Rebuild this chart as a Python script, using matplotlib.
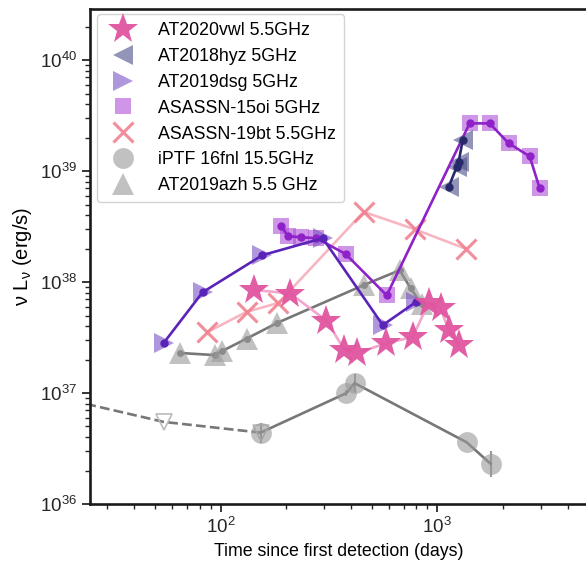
import numpy as np
import matplotlib
matplotlib.use("Agg")
import matplotlib.pyplot as plt
from matplotlib.ticker import LogLocator, NullFormatter

plt.rcParams['font.family'] = ['Liberation Sans', 'DejaVu Sans']
plt.rcParams['mathtext.fontset'] = 'custom'
plt.rcParams['mathtext.rm'] = 'Liberation Sans'
plt.rcParams['mathtext.it'] = 'Liberation Sans'

# ---- data (time in days, luminosity in erg/s) ----
vwl_t = [143, 210, 308, 373, 428, 577, 769, 912, 1035, 1127, 1253]
vwl_L = [8.5e37, 7.9e37, 4.5e37, 2.45e37, 2.3e37, 2.8e37, 3.2e37, 6.5e37, 5.8e37, 3.7e37, 2.7e37]

hyz_t = [1127, 1228, 1253, 1309]
hyz_L = [7.2e38, 1.09e39, 1.21e39, 1.9e39]

dsg_t = [54.6, 82.6, 156, 296, 560, 795]
dsg_L = [2.82e37, 8.1e37, 1.75e38, 2.49e38, 4.1e37, 6.6e37]

oi_t = [191, 204, 234, 277, 378, 584, 1409, 1742, 2131, 2666, 2965]
oi_L = [3.2e38, 2.6e38, 2.54e38, 2.49e38, 1.79e38, 7.6e37, 2.7e39, 2.7e39, 1.79e39, 1.36e39, 7.0e38]

bt_t = [87, 132, 185, 457, 785, 1352]
bt_L = [3.55e37, 5.4e37, 6.5e37, 4.3e38, 3.0e38, 2.0e38]

fnl_t = [153, 381, 415, 1365, 1762]
fnl_L = [4.4e36, 1.0e37, 1.23e37, 3.6e36, 2.3e36]
fnl_dex = [0.09, 0.03, 0.08, 0.0, 0.12]

fnl_lim_t = [18, 54.6, 153]
fnl_lim_L = [9.1e36, 5.5e36, 4.4e36]

azh_t = [64.7, 93.8, 102, 132, 183, 457, 670, 753, 847]
azh_L = [2.3e37, 2.2e37, 2.4e37, 3.1e37, 4.3e37, 9.4e37, 1.28e38, 8.8e37, 6.3e37]

labels = ['AT2020vwl 5.5GHz', 'AT2018hyz 5GHz', 'AT2019dsg 5GHz', 'ASASSN-15oi 5GHz',
          'ASASSN-19bt 5.5GHz', 'iPTF 16fnl 15.5GHz', 'AT2019azh 5.5 GHz']

fig = plt.figure(figsize=(5.86, 5.71), dpi=100)
ax = fig.add_axes([90/586, 1-504/571, 497/586, (504-9)/571])
ax.set_xscale('log')
ax.set_yscale('log')

# iPTF 16fnl upper limits (dashed)
ax.plot(fnl_lim_t, fnl_lim_L, '--', color='#777777', lw=1.9, zorder=2)
ax.plot(fnl_lim_t, fnl_lim_L, 'v', ms=11, mfc='none', mec='#bbbbbb', mew=1.2, ls='none', zorder=3)

# iPTF 16fnl detections
fnl_L_a = np.array(fnl_L)
d = np.array(fnl_dex)
yerr = [fnl_L_a - fnl_L_a*10**(-d), fnl_L_a*10**d - fnl_L_a]
ax.errorbar(fnl_t, fnl_L, yerr=yerr, fmt='none', ecolor='#999999', elinewidth=1.5, zorder=2)
ax.plot(fnl_t, fnl_L, '-', color='#777777', lw=1.9, zorder=2)
h_fnl, = ax.plot(fnl_t, fnl_L, 'o', ms=15, color='#999999', alpha=0.6, ls='none', mew=0, zorder=3)

# AT2019azh
ax.plot(azh_t, azh_L, '-o', color='#777777', lw=1.9, ms=4, zorder=2)
h_azh, = ax.plot(azh_t, azh_L, '^', ms=16, color='#999999', alpha=0.6, ls='none', mew=0, zorder=3)

# ASASSN-19bt
ax.plot(bt_t, bt_L, '-', color='#f8b6c2', lw=1.9, zorder=2)
h_bt, = ax.plot(bt_t, bt_L, 'x', ms=14, mew=2.2, color='#f07a8a', alpha=0.85, ls='none', zorder=3)

# ASASSN-15oi
ax.plot(oi_t, oi_L, '-o', color='#8e22c8', lw=1.9, ms=5, zorder=4)
h_oi, = ax.plot(oi_t, oi_L, 's', ms=12, color='#b050d8', alpha=0.6, ls='none', mew=0, zorder=3)

# AT2019dsg
ax.plot(dsg_t, dsg_L, '-o', color='#5a24b8', lw=1.9, ms=5, zorder=4)
h_dsg, = ax.plot(dsg_t, dsg_L, '>', ms=15, color='#7a52c8', alpha=0.6, ls='none', mew=0, zorder=3)

# AT2018hyz
ax.plot(hyz_t, hyz_L, '-o', color='#28296a', lw=1.9, ms=5, zorder=4)
h_hyz, = ax.plot(hyz_t, hyz_L, '<', ms=15, color='#4a4f88', alpha=0.6, ls='none', mew=0, zorder=3)

# AT2020vwl
ax.plot(vwl_t, vwl_L, '-', color='#f2a6cc', lw=1.9, zorder=4)
h_vwl, = ax.plot(vwl_t, vwl_L, '*', ms=23, color='#e0559f', ls='none', mew=0, alpha=0.95, zorder=5)

ax.set_xlim(25, 4900)
ax.set_ylim(1e36, 2.9e40)

ax.set_xlabel('Time since first detection (days)', fontsize=12.8)
ax.set_ylabel('ν L$_{ν}$ (erg/s)', fontsize=14.5)

ax.yaxis.set_major_locator(LogLocator(base=10, numticks=10))
ax.yaxis.set_minor_locator(LogLocator(base=10, subs=np.arange(2, 10), numticks=20))
ax.yaxis.set_minor_formatter(NullFormatter())
ax.xaxis.set_minor_formatter(NullFormatter())

for s in ax.spines.values():
    s.set_linewidth(1.9)
    s.set_color('#1a1a1a')
ax.tick_params(which='major', length=6, width=1.3, labelsize=13.5, colors='#262626', direction='out')
ax.tick_params(which='minor', length=3.5, width=1.0, colors='#262626', direction='out')

leg = ax.legend([h_vwl, h_hyz, h_dsg, h_oi, h_bt, h_fnl, h_azh], labels,
                loc='upper left', fontsize=12.8, frameon=True, framealpha=0.85,
                edgecolor='#cccccc', borderpad=0.45, labelspacing=0.5,
                handletextpad=1.0, borderaxespad=0.2,
                bbox_to_anchor=(0.007, 0.997))
leg.get_frame().set_linewidth(1.0)

fig.savefig('out.png', dpi=100)
